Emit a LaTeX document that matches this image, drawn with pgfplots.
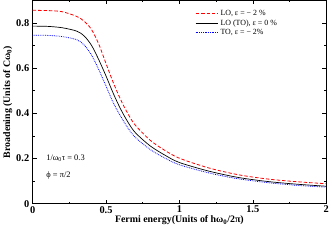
\documentclass[border=0pt]{standalone}
\usepackage{fontspec}
\setmainfont{Liberation Serif}
\usepackage{pgfplots}
\pgfplotsset{compat=1.18}
\begin{document}
\begin{tikzpicture}
\begin{axis}[
  scale only axis, width=296bp, height=205bp,
  xmin=0, xmax=2, ymin=0, ymax=0.9,
  xtick={0,0.5,1,1.5,2}, ytick={0,0.2,0.4,0.6,0.8},
  minor xtick={0.25,0.75,1.25,1.75}, minor ytick={0.1,0.3,0.5,0.7,0.9},
  xticklabels={0,0.5,1,1.5,2},
  yticklabels={0,0.2,0.4,0.6,0.8},
  tick align=inside, major tick length=4bp, minor tick length=2bp,
  tick style={black, line width=0.5pt},
  axis line style={line width=0.8pt},
  ticklabel style={font=\fontsize{10.5}{11}\selectfont\bfseries},
  xticklabel style={yshift=1bp},
  xlabel={\bfseries Fermi energy(Units of hω\textsubscript{0}/2π)},
  ylabel={\bfseries Broadening (Units of Cω\textsubscript{0})},
  label style={font=\fontsize{10}{11}\selectfont},
  xlabel style={yshift=4bp},
  ylabel style={yshift=-3bp},
  legend style={draw=none, fill=none, at={(axis cs:1.1,0.87)}, anchor=north west,
     font=\fontsize{8}{9}\selectfont, row sep=-1.5bp, inner sep=1pt},
  legend cell align=left,
  legend image code/.code={\draw[#1] (0cm,0cm) -- (0.8cm,0cm);},
]
\addplot[red, dash pattern=on 3.5pt off 2pt, line width=0.8pt, smooth] coordinates {
(0,0.856)(0.1,0.855)(0.2,0.850)(0.3,0.829)(0.35,0.808)(0.4,0.772)(0.45,0.707)(0.5,0.620)(0.55,0.535)(0.6,0.460)(0.65,0.397)(0.7,0.347)(0.8,0.281)(0.9,0.236)(1.0,0.201)(1.2,0.158)(1.4,0.128)(1.6,0.109)(1.8,0.097)(2.0,0.088)};
\addlegendentry{LO, ε = − 2 \%}
\addplot[black, line width=0.7pt, smooth] coordinates {
(0,0.786)(0.1,0.785)(0.2,0.779)(0.3,0.764)(0.35,0.743)(0.4,0.702)(0.45,0.638)(0.5,0.565)(0.55,0.487)(0.6,0.418)(0.65,0.360)(0.7,0.314)(0.8,0.256)(0.9,0.215)(1.0,0.182)(1.2,0.144)(1.4,0.116)(1.6,0.098)(1.8,0.086)(2.0,0.077)};
\addlegendentry{LO (TO), ε = 0 \%}
\addplot[blue, densely dotted, line width=0.8pt, smooth] coordinates {
(0,0.746)(0.1,0.745)(0.2,0.740)(0.3,0.726)(0.35,0.703)(0.4,0.659)(0.45,0.594)(0.5,0.520)(0.55,0.446)(0.6,0.386)(0.65,0.334)(0.7,0.293)(0.8,0.240)(0.9,0.202)(1.0,0.172)(1.2,0.136)(1.4,0.110)(1.6,0.093)(1.8,0.081)(2.0,0.073)};
\addlegendentry{TO, ε = − 2\%}
\node[anchor=west, font=\fontsize{8.5}{9}\selectfont] at (axis cs:0.07,0.2) {1/ω\textsubscript{0}τ = 0.3};
\node[anchor=west, font=\fontsize{8.5}{9}\selectfont] at (axis cs:0.07,0.126) {ϕ = π/2};
\end{axis}
\end{tikzpicture}
\end{document}
